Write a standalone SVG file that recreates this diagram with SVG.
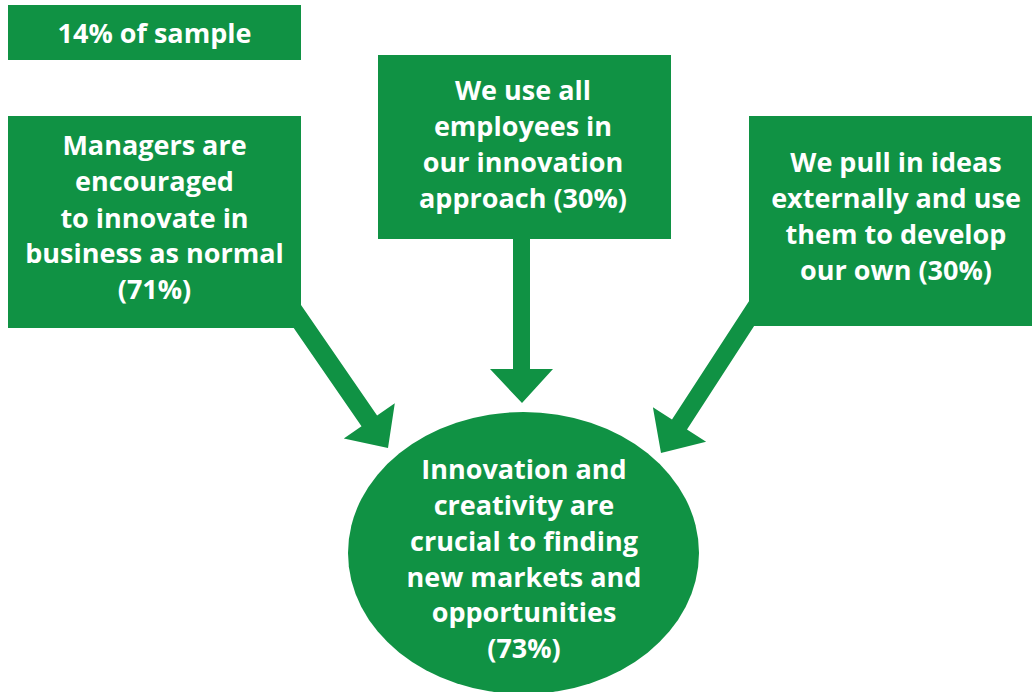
<svg xmlns="http://www.w3.org/2000/svg" width="1032" height="692" viewBox="0 0 1032 692">
  <style>
    .box { fill: #109244; }
    .arrow { fill: #109244; }
    .label { fill: #ffffff; font-family: "Open Sans", "Noto Sans", sans-serif; font-weight: 700; font-size: 27px; text-anchor: middle; }
  </style>
  <rect width="1032" height="692" fill="#ffffff"/>

  <!-- block arrows pointing into the central ellipse -->
  <g id="connectors">
    <polygon class="arrow" points="278.2,305.4 361.5,426.2 343.8,438.4 388,448 394.8,403.2 377.1,415.4 293.8,294.6"/>
    <polygon class="arrow" points="513,230 513,369 490,369 522,403 553,369 530,369 530,230"/>
    <polygon class="arrow" points="756.9,288.9 672.0,419.6 652.9,407.2 661,453 706.1,441.8 687.0,429.4 771.9,298.7"/>
  </g>

  <g id="sample">
    <rect class="box" x="8" y="5" width="293" height="55"/>
    <text class="label" x="154.5" y="43">14% of sample</text>
  </g>

  <g id="managers">
    <rect class="box" x="8" y="116" width="293" height="212"/>
    <text class="label" x="154.5" y="155">Managers are</text>
    <text class="label" x="154.5" y="191">encouraged</text>
    <text class="label" x="154.5" y="228">to innovate in</text>
    <text class="label" x="154.5" y="263">business as normal</text>
    <text class="label" x="154.5" y="299">(71%)</text>
  </g>

  <g id="employees">
    <rect class="box" x="378" y="55" width="293" height="184"/>
    <text class="label" x="523" y="100">We use all</text>
    <text class="label" x="523" y="136">employees in</text>
    <text class="label" x="523" y="172">our innovation</text>
    <text class="label" x="523" y="208">approach (30%)</text>
  </g>

  <g id="external">
    <rect class="box" x="749" y="116" width="283" height="210"/>
    <text class="label" x="896" y="172">We pull in ideas</text>
    <text class="label" x="896" y="208">externally and use</text>
    <text class="label" x="896" y="244">them to develop</text>
    <text class="label" x="896" y="280">our own (30%)</text>
  </g>

  <g id="innovation">
    <ellipse class="box" cx="523.5" cy="553" rx="175.5" ry="141"/>
    <text class="label" x="524" y="479">Innovation and</text>
    <text class="label" x="524" y="515">creativity are</text>
    <text class="label" x="524" y="551">crucial to finding</text>
    <text class="label" x="524" y="587">new markets and</text>
    <text class="label" x="524" y="622">opportunities</text>
    <text class="label" x="524" y="658">(73%)</text>
  </g>
</svg>
